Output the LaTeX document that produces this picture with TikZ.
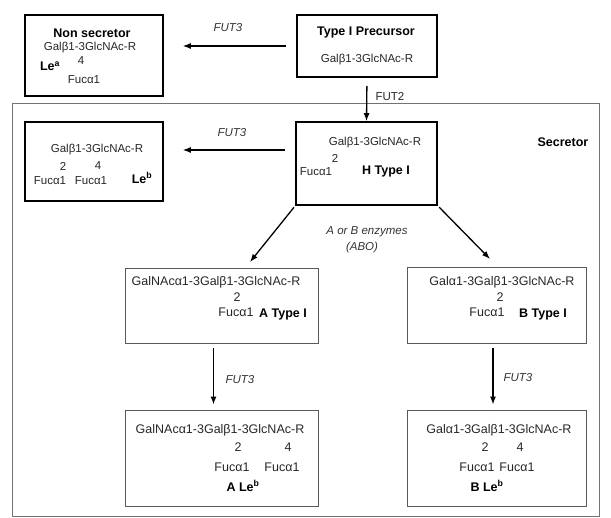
\documentclass[tikz,border=0pt]{standalone}
\usepackage{fontspec}
\setmainfont{Liberation Sans}
\usetikzlibrary{arrows.meta}

\begin{document}
\begin{tikzpicture}
[
x=1pt, y=-1pt,
thk/.style={rectangle, draw=black, line width=1.6pt, inner sep=0pt},
thn/.style={rectangle, draw=black!65, line width=0.8pt, inner sep=0pt},
txt/.style={inner sep=0pt, text=black!85, font=\fontsize{11.5}{13}\selectfont},
txtl/.style={inner sep=0pt, text=black!85, font=\fontsize{12.5}{14}\selectfont},
bld/.style={inner sep=0pt, font=\fontsize{12.5}{14}\selectfont\bfseries},
enz/.style={inner sep=0pt, text=black!80, font=\fontsize{11.5}{13}\selectfont\itshape},
arr/.style={-{Latex[length=8pt,width=6pt]}, line width=1.3pt}
]
\useasboundingbox (0,0) rectangle (611,518);

% secretor frame
\node[thn, draw=black!55, minimum width=587pt, minimum height=413pt] (sec) at (305.5,309.5) {};
\node[bld] (seclbl) at (563,142) {Secretor};

% boxes
\node[thk, minimum width=138pt, minimum height=81pt] (nonsec) at (94,55.5) {};
\node[thk, minimum width=140pt, minimum height=62pt] (prec) at (367,46) {};
\node[thk, minimum width=138pt, minimum height=79pt] (leb) at (94,161.5) {};
\node[thk, minimum width=141pt, minimum height=83pt] (htype) at (366.5,163.5) {};
\node[thn, minimum width=193pt, minimum height=75pt] (atype) at (221.5,305.5) {};
\node[thn, minimum width=179pt, minimum height=76pt] (btype) at (496.5,305) {};
\node[thn, minimum width=193pt, minimum height=96pt] (aleb) at (221.5,458) {};
\node[thn, minimum width=179pt, minimum height=96pt] (bleb) at (496.5,458) {};

% non secretor
\node[bld] (ns1) at (92,33) {Non secretor};
\node[txt] (ns2) at (90,48) {Galβ1-3GlcNAc-R};
\node[txt] (ns3) at (81,61) {4};
\node[bld] (ns4) at (50,66) {Le\textsuperscript{a}};
\node[txt] (ns5) at (84,80) {Fucα1};

% precursor
\node[bld] (pr1) at (366,33) {Type I Precursor};
\node[txt] (pr2) at (367,60) {Galβ1-3GlcNAc-R};

% Le b
\node[txt] (lb1) at (97,150) {Galβ1-3GlcNAc-R};
\node[txt] (lb2) at (63,166) {2};
\node[txt] (lb3) at (98,166) {4};
\node[txt] (lb4) at (50,181) {Fucα1};
\node[txt] (lb5) at (91,181) {Fucα1};
\node[bld] (lb6) at (142,178) {Le\textsuperscript{b}};

% H type I
\node[txt] (h1) at (375,143) {Galβ1-3GlcNAc-R};
\node[txt] (h2) at (335,158) {2};
\node[txt] (h3) at (316,172) {Fucα1};
\node[bld] (h4) at (386,172) {H Type I};

% A type I
\node[txtl] (a1) at (216,282) {GalNAcα1-3Galβ1-3GlcNAc-R};
\node[txtl] (a2) at (237,297) {2};
\node[txtl] (a3) at (236,312) {Fucα1};
\node[bld] (a4) at (283,314) {A Type I};

% B type I
\node[txtl] (b1) at (502,282) {Galα1-3Galβ1-3GlcNAc-R};
\node[txtl] (b2) at (500,297) {2};
\node[txtl] (b3) at (487,312) {Fucα1};
\node[bld] (b4) at (543,314) {B Type I};

% A Le b
\node[txtl] (al1) at (220,430) {GalNAcα1-3Galβ1-3GlcNAc-R};
\node[txtl] (al2) at (238,447) {2};
\node[txtl] (al3) at (288,447) {4};
\node[txtl] (al4) at (232,467) {Fucα1};
\node[txtl] (al5) at (282,467) {Fucα1};
\node[bld] (al6) at (243,486) {A Le\textsuperscript{b}};

% B Le b
\node[txtl] (bl1) at (499,430) {Galα1-3Galβ1-3GlcNAc-R};
\node[txtl] (bl2) at (485,447) {2};
\node[txtl] (bl3) at (520,447) {4};
\node[txtl] (bl4) at (477,467) {Fucα1};
\node[txtl] (bl5) at (517,467) {Fucα1};
\node[bld] (bl6) at (487,486) {B Le\textsuperscript{b}};

% enzymes
\node[enz] (f1) at (228,28) {FUT3};
\node[txt] (f2) at (390,97) {FUT2};
\node[enz] (f3) at (232,133) {FUT3};
\node[enz] (abo1) at (367,232) {A or B enzymes};
\node[enz] (abo2) at (362,248) {(ABO)};
\node[enz] (f4) at (240,380) {FUT3};
\node[enz] (f5) at (518,378) {FUT3};

\coordinate (atip) at (250,262);
\coordinate (btip) at (490,259);

% arrows
\draw[arr, shorten <=10pt, shorten >=19pt] (prec.west) -- (prec.west -| nonsec.east);
\draw[arr, shorten <=8pt] (prec.south) -- (htype.north);
\draw[arr, shorten <=10pt, shorten >=19pt] (htype.west |- lb1) -- (lb1 -| leb.east);
\draw[arr, shorten <=2pt] (htype.south west) -- (atip);
\draw[arr, shorten <=2pt] (htype.south east) -- (btip);
\draw[arr, shorten <=5pt, shorten >=5pt] ([xshift=-8pt]atype.south) -- ([xshift=-8pt]aleb.north);
\draw[arr, shorten <=5pt, shorten >=5pt] ([xshift=-3.5pt]btype.south) -- ([xshift=-3.5pt]bleb.north);
\end{tikzpicture}
\end{document}
